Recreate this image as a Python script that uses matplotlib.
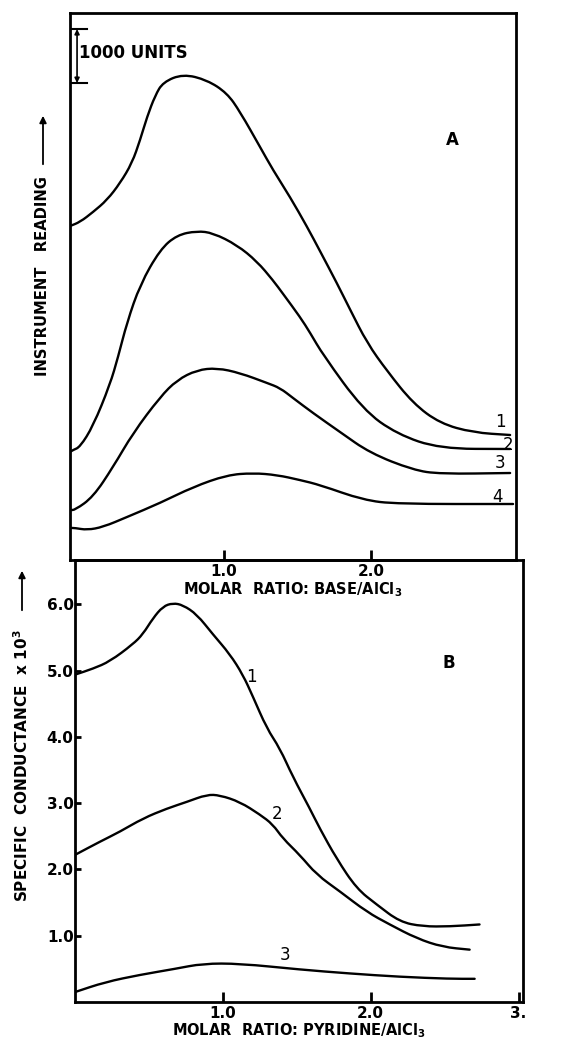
import matplotlib
matplotlib.use("Agg")
import matplotlib.pyplot as plt
from matplotlib.patches import FancyArrowPatch, PathPatch
from matplotlib.path import Path

# ---- panel A : instrument reading vs molar ratio base/AlCl3 ----
a_x1 = [-0.048, 0.02, 0.109, 0.204, 0.293, 0.374, 0.429, 0.476, 0.531, 0.585, 0.721, 0.884, 1.020, 1.109,
        1.245, 1.333, 1.449, 1.565, 1.653, 1.769, 1.857, 1.973, 2.109, 2.286, 2.469, 2.694, 2.946]
a_y1 = [6185, 6259, 6444, 6667, 6981, 7352, 7778, 8204, 8600, 8850, 9000, 8889, 8648, 8300,
        7648, 7222, 6722, 6170, 5720, 5120, 4640, 4020, 3500, 2900, 2530, 2360, 2315]
a_x2 = [-0.048, -0.027, 0.02, 0.109, 0.224, 0.279, 0.340, 0.429, 0.565, 0.680, 0.816, 0.925, 1.088, 1.224,
        1.333, 1.401, 1.517, 1.585, 1.673, 1.946, 2.177, 2.469, 2.946]
a_y2 = [2000, 2037, 2093, 2480, 3250, 3759, 4400, 5100, 5750, 6019, 6093, 6056, 5833, 5530,
        5180, 4930, 4500, 4210, 3800, 2780, 2330, 2060, 2056]
a_x3 = [-0.048, -0.014, 0.109, 0.245, 0.381, 0.565, 0.680, 0.816, 0.952, 1.109, 1.293, 1.381, 1.469, 1.605,
        1.789, 1.993, 2.286, 2.469, 2.946]
a_y3 = [926, 926, 1167, 1722, 2352, 3019, 3333, 3519, 3556, 3463, 3278, 3185, 3000, 2722,
        2370, 1981, 1667, 1593, 1611]
a_x4 = [-0.048, -0.014, 0.068, 0.177, 0.340, 0.565, 0.789, 1.020, 1.197, 1.361, 1.517, 1.653, 1.946, 2.177, 2.966]
a_y4 = [593, 593, 556, 611, 796, 1056, 1352, 1574, 1611, 1574, 1481, 1389, 1111, 1037, 1037]
a_labels = ["1", "2", "3", "4"]
a_label_pos = [(2.88, 2560), (2.93, 2130), (2.88, 1800), (2.86, 1170)]

# ---- panel B : specific conductance vs molar ratio pyridine/AlCl3 ----
b_x1 = [0.0, 0.122, 0.236, 0.392, 0.459, 0.527, 0.595, 0.662, 0.730, 0.824, 0.932, 1.047, 1.135,
        1.203, 1.297, 1.385, 1.473, 1.588, 1.655, 1.770, 1.905, 2.041, 2.196, 2.351, 2.534, 2.736]
b_y1 = [4.94, 5.03, 5.14, 5.40, 5.55, 5.79, 5.97, 6.02, 5.99, 5.85, 5.55, 5.25, 4.94,
        4.61, 4.13, 3.83, 3.40, 2.92, 2.62, 2.16, 1.71, 1.47, 1.21, 1.14, 1.14, 1.17]
b_x2 = [0.0, 0.169, 0.304, 0.459, 0.622, 0.757, 0.892, 0.980, 1.115, 1.250, 1.338, 1.405, 1.520,
        1.635, 1.791, 1.973, 2.128, 2.311, 2.486, 2.669]
b_y2 = [2.22, 2.42, 2.57, 2.77, 2.92, 3.02, 3.13, 3.12, 3.02, 2.83, 2.68, 2.47, 2.22,
        1.92, 1.67, 1.36, 1.17, 0.96, 0.83, 0.79]
b_x3 = [0.0, 0.203, 0.439, 0.676, 0.865, 1.115, 1.520, 1.858, 2.196, 2.534, 2.703]
b_y3 = [0.15, 0.30, 0.41, 0.50, 0.58, 0.58, 0.49, 0.43, 0.38, 0.35, 0.35]
b_labels = ["1", "2", "3"]
b_label_pos = [(1.196, 4.91), (1.365, 2.83), (1.419, 0.71)]
b_yticks = [1.0, 2.0, 3.0, 4.0, 5.0, 6.0]

W, H = 569, 1041
plt.rcParams["font.family"] = ["DejaVu Sans"]
fig = plt.figure(figsize=(W / 100, H / 100), dpi=100)


def fx(px):
    return px / W


def fy(py):
    return 1 - py / H


def smooth_line(ax, xs, ys, lw=1.7):
    # quadratic bezier through midpoints of the read points -> smooth pen-drawn look
    verts = [(xs[0], ys[0])]
    codes = [Path.MOVETO]
    mids = [((xs[i] + xs[i + 1]) / 2, (ys[i] + ys[i + 1]) / 2) for i in range(len(xs) - 1)]
    verts.append(mids[0])
    codes.append(Path.LINETO)
    for i in range(1, len(xs) - 1):
        verts += [(xs[i], ys[i]), mids[i]]
        codes += [Path.CURVE3, Path.CURVE3]
    verts.append((xs[-1], ys[-1]))
    codes.append(Path.LINETO)
    ax.add_patch(PathPatch(Path(verts, codes), facecolor="none", edgecolor="black",
                           lw=lw, joinstyle="round", capstyle="round"))


axB = fig.add_axes([fx(75), fy(1002), fx(523) - fx(75), fy(560) - fy(1002)])
axA = fig.add_axes([fx(70), fy(560), fx(516) - fx(70), fy(13) - fy(560)])
axA.patch.set_visible(False)
axA.set_zorder(3)

for xs, ys in [(a_x1, a_y1), (a_x2, a_y2), (a_x3, a_y3), (a_x4, a_y4)]:
    smooth_line(axA, xs, ys)
for lab, (x, y) in zip(a_labels, a_label_pos):
    axA.text(x, y, lab, fontsize=12, ha="center", va="center")
axA.text(2.55, 7780, "A", fontsize=12, fontweight="bold", ha="center", va="center")

axA.set_xlim(-0.048, 2.986)
axA.set_ylim(0, 10130)
axA.set_yticks([])
axA.set_xticks([1.0, 2.0])
axA.set_xticklabels(["1.0", "2.0"], fontsize=11, fontweight="bold")
axA.tick_params(axis="x", direction="in", length=7, width=2, pad=3)
axA.set_xlabel("MOLAR  RATIO: BASE/AlCl$_\\mathbf{3}$", fontsize=10.5, fontweight="bold", labelpad=1)

# 1000 units scale bar
axA.annotate("", xy=(0.0, 9833), xytext=(0.0, 8833),
             arrowprops=dict(arrowstyle="<|-|>", color="black", lw=1.2, mutation_scale=7, shrinkA=0, shrinkB=0))
axA.plot([-0.048, 0.07], [9833, 9833], color="black", lw=1.5)
axA.plot([-0.048, 0.07], [8833, 8833], color="black", lw=1.5)
axA.text(0.01, 9390, "1000 UNITS", fontsize=12, fontweight="bold", ha="left", va="center")

for xs, ys in [(b_x1, b_y1), (b_x2, b_y2), (b_x3, b_y3)]:
    smooth_line(axB, xs, ys)
for lab, (x, y) in zip(b_labels, b_label_pos):
    axB.text(x, y, lab, fontsize=12, ha="center", va="center")
axB.text(2.53, 5.11, "B", fontsize=12, fontweight="bold", ha="center", va="center")

axB.set_xlim(0, 3.03)
axB.set_ylim(0, 6.67)
axB.set_xticks([1.0, 2.0, 3.0])
axB.set_xticklabels(["1.0", "2.0", "3."], fontsize=11, fontweight="bold")
axB.set_yticks(b_yticks)
axB.set_yticklabels([f"{v:.1f}" for v in b_yticks], fontsize=11, fontweight="bold")
axB.tick_params(axis="x", direction="in", length=7, width=2, pad=3)
axB.tick_params(axis="y", direction="in", length=4, width=2, pad=1)
axB.set_xlabel("MOLAR  RATIO: PYRIDINE/AlCl$_\\mathbf{3}$", fontsize=10.5, fontweight="bold", labelpad=0)

for ax in (axA, axB):
    for s in ax.spines.values():
        s.set_linewidth(2)

# rotated y labels with arrows
fig.text(fx(43), fy(276), "INSTRUMENT   READING", rotation=90, fontsize=10.6,
         fontweight="bold", ha="center", va="center")
fig.add_artist(FancyArrowPatch((fx(43), fy(167)), (fx(43), fy(113)), transform=fig.transFigure,
                               arrowstyle="-|>", mutation_scale=10, color="black", lw=1.3))
fig.text(fx(22), fy(766), "SPECIFIC  CONDUCTANCE  x 10$^\\mathbf{3}$", rotation=90, fontsize=11,
         fontweight="bold", ha="center", va="center")
fig.add_artist(FancyArrowPatch((fx(22), fy(613)), (fx(22), fy(568)), transform=fig.transFigure,
                               arrowstyle="-|>", mutation_scale=10, color="black", lw=1.3))

fig.savefig("out.png", dpi=100, facecolor="white")
